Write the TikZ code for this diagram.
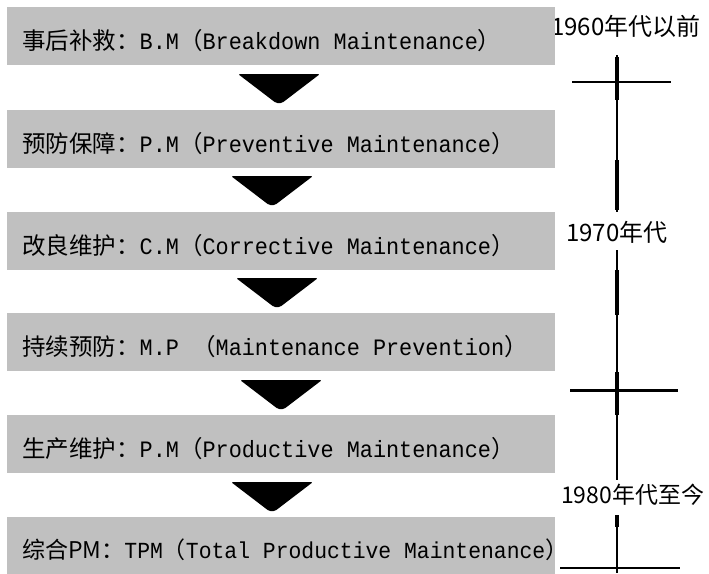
\documentclass[tikz,border=0pt]{standalone}
\usepackage{fontspec}
\newfontfamily\cjk{Noto Sans CJK SC}
\newfontfamily\mono[FakeStretch=0.93]{Liberation Mono}
\newcommand\lat[1]{{\mono #1}}
\definecolor{boxgray}{HTML}{C0C0C0}
\begin{document}
\begin{tikzpicture}[x=1pt,y=-1pt,
  stagebox/.style={fill=boxgray, minimum width=548pt, minimum height=58pt,
    inner sep=0pt, anchor=north west},
  stagetext/.style={inner sep=0pt, anchor=west,
    font=\cjk\fontsize{23.5}{25}\selectfont},
  eralabel/.style={font=\cjk\fontsize{24}{26}\selectfont, inner sep=0pt, anchor=west},
  darr/.pic={\fill[black, rounded corners=1.5pt] (-41,0) -- (41,0) -- (3,29) -- (-3,29) -- cycle;},
  thinln/.style={line width=2pt},
  thickln/.style={line width=4.5pt}]
\useasboundingbox (0,0) rectangle (709,573);
% era labels (drawn first so the first box overlaps the "1")
\node[eralabel] (e1) at (551,26) {1960年代以前};
\node[eralabel] (e2) at (566,232) {1970年代};
\node[eralabel] (e3) at (561,495) {\fontsize{23}{25}\selectfont 1980年代至今};
% stage boxes
\node[stagebox] (b1) at (7,7)   {};
\node[stagebox] (b2) at (7,110) {};
\node[stagebox] (b3) at (7,212) {};
\node[stagebox] (b4) at (7,313) {};
\node[stagebox] (b5) at (7,415) {};
\node[stagebox] (b6) at (7,517) {};
\node[stagetext] (s1) at ([xshift=15pt,yshift=-4pt]b1.west) {事后补救：\lat{B.M}（\lat{Breakdown Maintenance}）};
\node[stagetext] (s2) at ([xshift=15pt,yshift=-4pt]b2.west) {预防保障：\lat{P.M}（\lat{Preventive Maintenance}）};
\node[stagetext] (s3) at ([xshift=15pt,yshift=-4pt]b3.west) {改良维护：\lat{C.M}（\lat{Corrective Maintenance}）};
\node[stagetext] (s4) at ([xshift=15pt,yshift=-4pt]b4.west) {持续预防：\lat{M.P }（\lat{Maintenance Prevention}）};
\node[stagetext] (s5) at ([xshift=15pt,yshift=-4pt]b5.west) {生产维护：\lat{P.M}（\lat{Productive Maintenance}）};
\node[stagetext, font=\cjk\fontsize{23}{25}\selectfont] (s6) at ([xshift=15pt,yshift=-4pt]b6.west) {综合PM：\lat{TPM}（\lat{Total Productive Maintenance}）};
% arrows between boxes
\pic at (279,74)  {darr};
\pic at (272,176) {darr};
\pic at (277,278) {darr};
\pic at (281,380) {darr};
\pic at (272,482) {darr};
% timeline
\coordinate (t0) at (617,55);
\coordinate (t1) at (617,212);
\coordinate (t2) at (617,250);
\coordinate (t3) at (617,480);
\coordinate (t4) at (617,515);
\coordinate (t5) at (617,573);
\draw[thinln] (t0) -- (t1);
\draw[thinln] (t2) -- (t3);
\draw[thinln] (t4) -- (t5);
\draw[thickln] (617,57) -- (617,100);
\draw[thickln] (617,160) -- (617,210);
\draw[thickln] (617,270) -- (617,315);
\draw[thickln] (617,372) -- (617,415);
\draw[thickln] (617,515) -- (617,527);
\coordinate (c1l) at (572,82);  \coordinate (c1r) at (671,82);
\coordinate (c2l) at (570,390); \coordinate (c2r) at (678,390);
\coordinate (c3l) at (560,568); \coordinate (c3r) at (680,568);
\draw[line width=2.5pt] (c1l) -- (c1r);
\draw[line width=3pt] (c2l) -- (c2r);
\draw[thinln] (c3l) -- (c3r);
\end{tikzpicture}
\end{document}
